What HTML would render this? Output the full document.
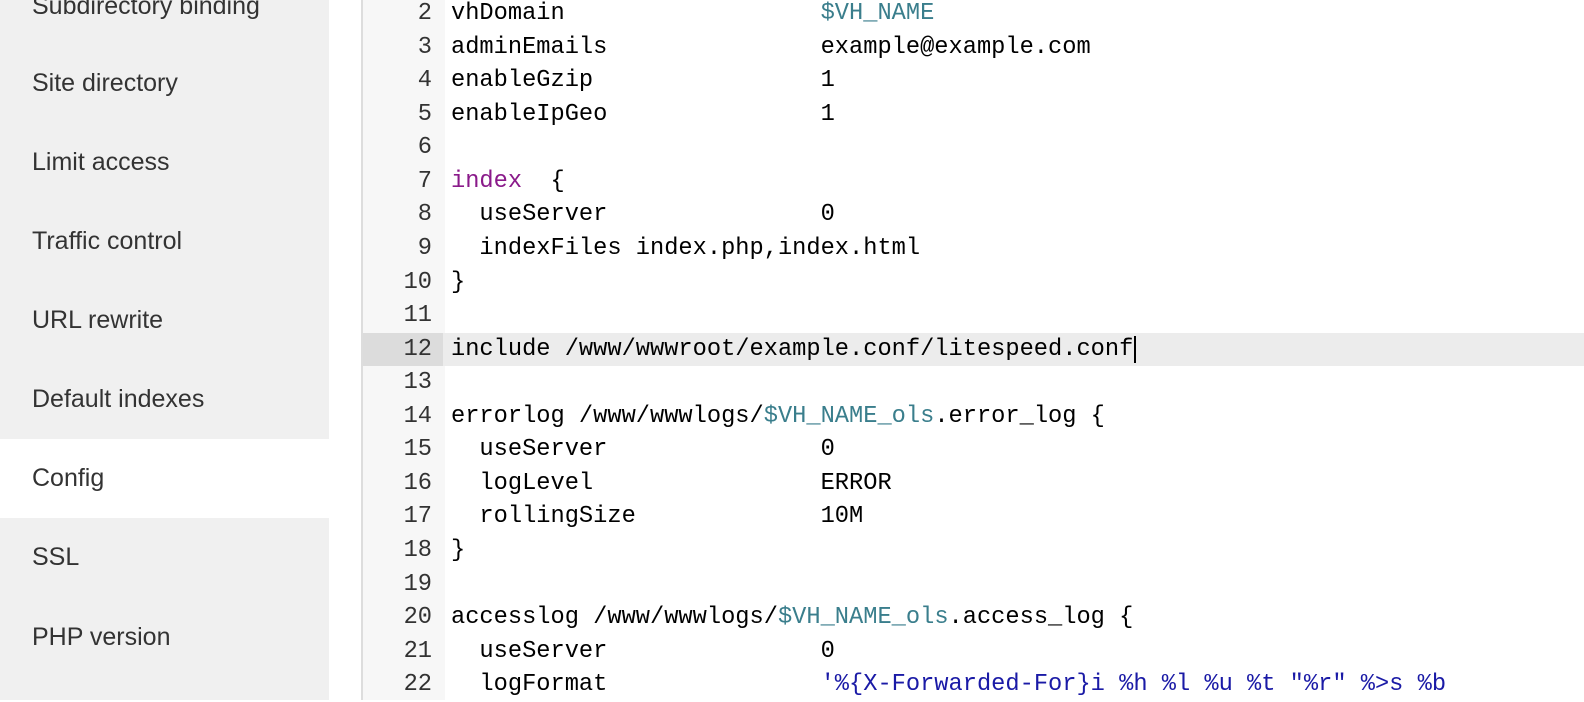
<!DOCTYPE html>
<html><head><style>
body{margin:0;width:1584px;height:700px;overflow:hidden;background:#fff;position:relative;font-family:"Liberation Sans",sans-serif}
.side{position:absolute;left:0;top:0;width:329px;height:700px;background:#f0f0f0}
.item{position:absolute;left:0;width:329px;height:79px;line-height:79px;padding-left:32px;box-sizing:border-box;font-size:25px;color:#333}
.gut{position:absolute;left:361px;top:0;width:82px;height:700px;background:#f7f7f7;border-left:2px solid #ddd}
.code{position:absolute;left:0;top:-2.8px;font-family:"Liberation Mono",monospace;font-size:23.7px;color:#000}
.ln{height:33.55px;line-height:33.55px;position:relative;white-space:pre}
.num{position:absolute;left:363px;width:69px;text-align:right;color:#333}
.txt{position:absolute;left:451px}
.hl{background:#ececec}
.hl .num{background:#dcdcdc;left:363px;width:80px;padding-right:11px;box-sizing:border-box}
.v{color:#3a7e8c}.k{color:#8a1a8a}.s{color:#1a1aa6}
</style></head><body>
<div class="side">
<div class="item" style="top:-33px">Subdirectory binding</div>
<div class="item" style="top:44px">Site directory</div>
<div class="item" style="top:123px">Limit access</div>
<div class="item" style="top:202px">Traffic control</div>
<div class="item" style="top:281px">URL rewrite</div>
<div class="item" style="top:360px">Default indexes</div>
<div class="item" style="top:439px;background:#fff">Config</div>
<div class="item" style="top:518px">SSL</div>
<div class="item" style="top:598px">PHP version</div>
</div>
<div class="gut"></div>
<div class="code" style="width:1584px">
<div class="ln"><span class="num">2</span><span class="txt">vhDomain                  <span class="v">$VH_NAME</span></span></div>
<div class="ln"><span class="num">3</span><span class="txt">adminEmails               example@example.com</span></div>
<div class="ln"><span class="num">4</span><span class="txt">enableGzip                1</span></div>
<div class="ln"><span class="num">5</span><span class="txt">enableIpGeo               1</span></div>
<div class="ln"><span class="num">6</span></div>
<div class="ln"><span class="num">7</span><span class="txt"><span class="k">index</span>  {</span></div>
<div class="ln"><span class="num">8</span><span class="txt">  useServer               0</span></div>
<div class="ln"><span class="num">9</span><span class="txt">  indexFiles index.php,index.html</span></div>
<div class="ln"><span class="num">10</span><span class="txt">}</span></div>
<div class="ln"><span class="num">11</span></div>
<div class="ln hl" style="margin-left:363px"><span class="num" style="left:0">12</span><span class="txt" style="left:88px">include /www/wwwroot/example.conf/litespeed.conf<span style="border-left:2px solid #000;margin-left:1px"></span></span></div>
<div class="ln"><span class="num">13</span></div>
<div class="ln"><span class="num">14</span><span class="txt">errorlog /www/wwwlogs/<span class="v">$VH_NAME_ols</span>.error_log {</span></div>
<div class="ln"><span class="num">15</span><span class="txt">  useServer               0</span></div>
<div class="ln"><span class="num">16</span><span class="txt">  logLevel                ERROR</span></div>
<div class="ln"><span class="num">17</span><span class="txt">  rollingSize             10M</span></div>
<div class="ln"><span class="num">18</span><span class="txt">}</span></div>
<div class="ln"><span class="num">19</span></div>
<div class="ln"><span class="num">20</span><span class="txt">accesslog /www/wwwlogs/<span class="v">$VH_NAME_ols</span>.access_log {</span></div>
<div class="ln"><span class="num">21</span><span class="txt">  useServer               0</span></div>
<div class="ln"><span class="num">22</span><span class="txt">  logFormat               <span class="s">'%{X-Forwarded-For}i %h %l %u %t "%r" %&gt;s %b</span></span></div>
</div>
</body></html>
